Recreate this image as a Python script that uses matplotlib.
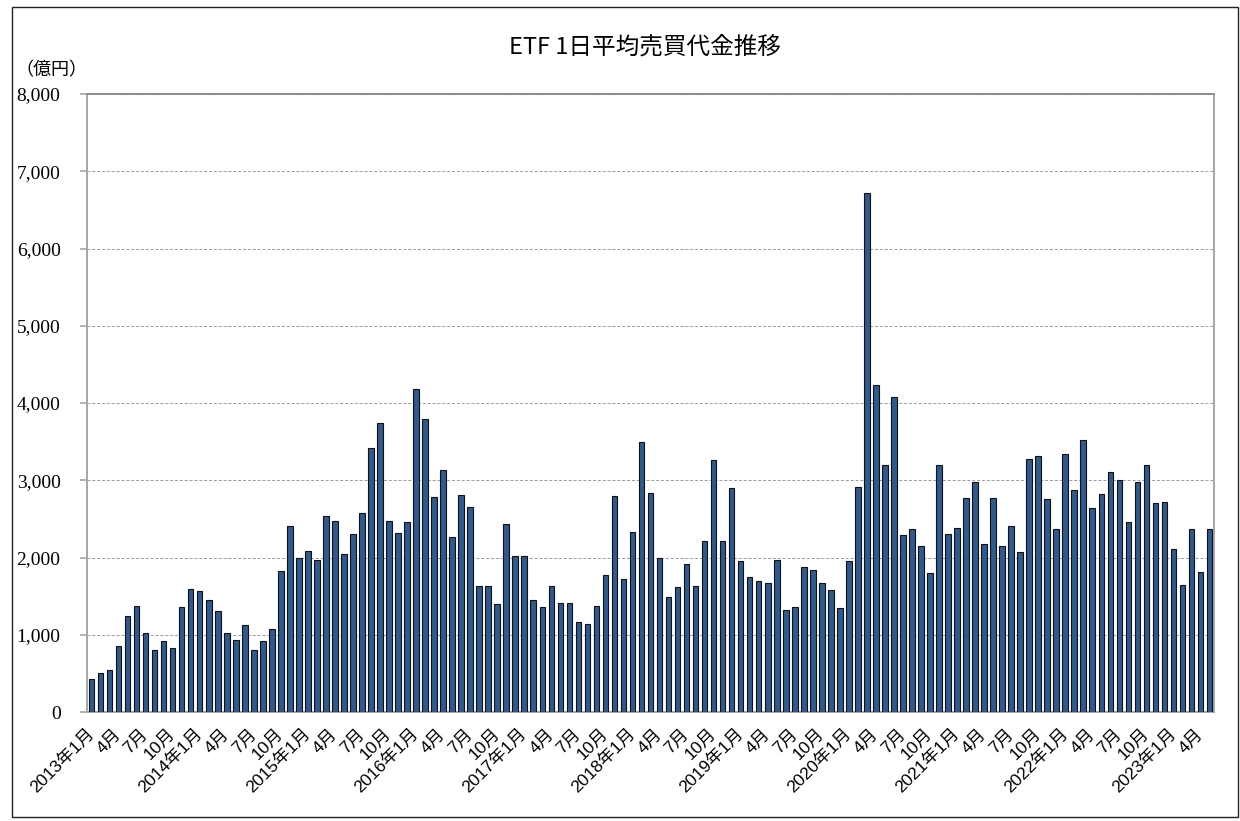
import matplotlib

matplotlib.use("Agg")
import matplotlib.pyplot as plt
from matplotlib.patches import Rectangle

# monthly average daily trading value of ETFs, 100 million yen (Jan 2013 - May 2023)
VALUES_2013 = [433, 511, 550, 848, 1238, 1368, 1022, 797, 913, 823, 1355, 1593]
VALUES_2014 = [1563, 1450, 1312, 1022, 935, 1130, 797, 918, 1069, 1823, 2403, 1991]
VALUES_2015 = [2087, 1970, 2541, 2468, 2039, 2307, 2571, 3412, 3745, 2476, 2312, 2460]
VALUES_2016 = [4175, 3794, 2783, 3132, 2265, 2810, 2656, 1630, 1635, 1392, 2434, 2021]
VALUES_2017 = [2016, 1444, 1354, 1630, 1407, 1413, 1169, 1138, 1370, 1772, 2794, 1725]
VALUES_2018 = [2328, 3497, 2841, 1989, 1488, 1619, 1922, 1632, 2212, 3264, 2208, 2896]
VALUES_2019 = [1961, 1749, 1697, 1671, 1970, 1320, 1355, 1879, 1840, 1671, 1580, 1351]
VALUES_2020 = [1952, 2913, 6720, 4235, 3192, 4075, 2290, 2367, 2148, 1800, 3192, 2300]
VALUES_2021 = [2385, 2766, 2974, 2177, 2766, 2149, 2403, 2069, 3280, 3318, 2752, 2375]
VALUES_2022 = [3336, 2870, 3525, 2644, 2818, 3101, 3007, 2460, 2978, 3195, 2705, 2714]
VALUES_2023 = [2107, 1645, 2366, 1814, 2375]

YEARS = list(range(2013, 2024))
SERIES = [VALUES_2013, VALUES_2014, VALUES_2015, VALUES_2016, VALUES_2017,
          VALUES_2018, VALUES_2019, VALUES_2020, VALUES_2021, VALUES_2022,
          VALUES_2023]

TITLE = "ETF 1日平均売買代金推移"
UNIT = "（億円）"
Y_TICKS = [0, 1000, 2000, 3000, 4000, 5000, 6000, 7000, 8000]

BAR = "#30598e"
EDGE = "#111111"
AXIS = "#a6a6a6"
GRIDC = "#9a9a9a"
JP = ["Noto Sans CJK JP", "DejaVu Sans"]
LABEL_FONT = ["Liberation Sans", "Noto Sans CJK JP"]

values, labels = [], []
for year, vals in zip(YEARS, SERIES):
    for m, v in enumerate(vals, start=1):
        values.append(v)
        labels.append(f"{year}年{m}月" if m == 1 else f"{m}月")

fig = plt.figure(figsize=(12.4, 8.21), dpi=100)
fig.patches.append(Rectangle((12 / 1240, 4 / 821), 1226 / 1240, 810 / 821,
                             transform=fig.transFigure, fill=False,
                             edgecolor="#222222", linewidth=1.0))

ax = fig.add_axes([87 / 1240, 109 / 821, 1127 / 1240, 618 / 821])
xs = list(range(len(values)))
ax.bar(xs, values, width=0.62, color=BAR, edgecolor=EDGE, linewidth=0.8,
       zorder=3)

ax.set_xlim(-0.5, len(values) - 0.5)
ax.set_ylim(0, 8000)
ax.set_yticks(Y_TICKS, [f"{t:,}" for t in Y_TICKS])
ax.yaxis.grid(True, color=GRIDC, linestyle=(0, (3, 2)), linewidth=0.7)
ax.set_axisbelow(True)
for lbl in ax.get_yticklabels():
    lbl.set_fontfamily("Liberation Serif")
    lbl.set_fontsize(14)
ax.tick_params(axis="y", length=5, width=1.2, color=AXIS, pad=14)

tick_pos = xs[::3]
ax.set_xticks(tick_pos)
ax.set_xticklabels(labels[::3], rotation=45, ha="right", va="center",
                   rotation_mode="anchor", fontsize=12.5, family=LABEL_FONT)
ax.tick_params(axis="x", length=0, pad=14)

for side, sp in ax.spines.items():
    sp.set_color(AXIS if side != "top" else "#8c8c8c")
    sp.set_linewidth(1.4)

fig.text(645 / 1240, 1 - 47 / 821, TITLE, ha="center", va="center",
         fontsize=17, family=JP)
fig.text(15 / 1240, 1 - 70 / 821, UNIT, ha="left", va="center",
         fontsize=13, family=JP)

fig.savefig("out.png", dpi=100)
